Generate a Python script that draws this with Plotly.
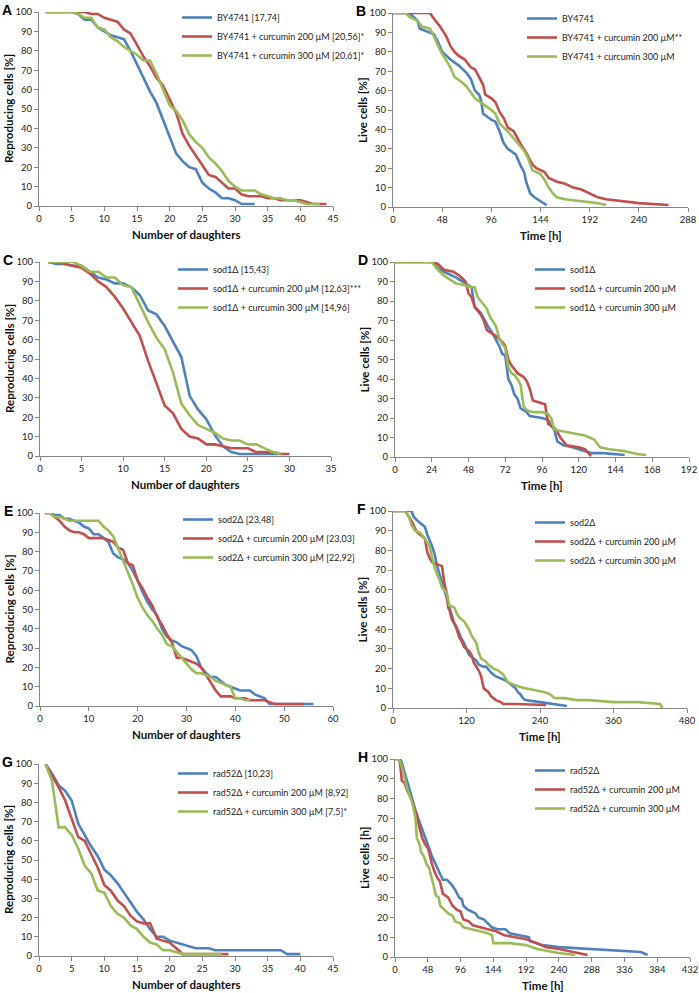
import plotly.graph_objects as go

BLUE = "#4F81BD"
RED = "#C0504D"
GREEN = "#9BBB59"

# ---------- Panel A : replicative lifespan, BY4741 ----------
a_blue = [100, 100, 100, 100, 100, 99, 96, 96, 92, 90, 88, 87, 86, 80, 73, 66, 59, 53, 44, 35, 27, 23, 20, 19, 12, 9, 7, 4, 4, 3, 1, 1, 1]
a_red = [100, 100, 100, 100, 100, 100, 100, 99, 99, 97, 96, 95, 91, 89, 83, 77, 72, 66, 62, 55, 48, 37, 31, 26, 21, 16, 15, 12, 9, 9, 6, 5, 5, 5, 4, 4, 3, 3, 3, 3, 2, 1, 1, 1]
a_green = [100, 100, 100, 100, 100, 99, 97, 97, 92, 91, 87, 85, 82, 80, 78, 75, 75, 68, 60, 52, 49, 44, 37, 33, 30, 25, 22, 18, 13, 10, 8, 8, 8, 6, 5, 4, 4, 3, 3, 2, 1, 1, 1]
a_names = ["BY4741 [17,74]", "BY4741 + curcumin 200 µM [20,56]*", "BY4741 + curcumin 300 µM [20,61]*"]

# ---------- Panel B : chronological lifespan, BY4741 ----------
b_blue_t = [0, 16, 20, 24, 26, 36, 40, 44, 48, 56, 64, 72, 76, 80, 84, 86, 88, 96, 100, 104, 108, 112, 120, 124, 128, 130, 132, 134, 138, 144, 148, 150]
b_blue_v = [100, 100, 98, 96, 92, 90, 89, 85, 80, 76, 73, 69, 66, 60, 58, 55, 48, 45, 44, 39, 33, 30, 27, 22, 18, 13, 10, 7, 5, 3, 2, 1]
b_red_t = [0, 36, 40, 46, 52, 56, 60, 64, 70, 76, 80, 84, 88, 90, 96, 100, 104, 108, 112, 118, 124, 130, 136, 140, 148, 152, 160, 168, 176, 184, 192, 200, 208, 224, 240, 269]
b_red_v = [100, 100, 97, 93, 88, 83, 80, 78, 76, 72, 71, 67, 63, 58, 56, 54, 49, 46, 41, 39, 33, 28, 22, 20, 18, 15, 13, 12, 10, 9, 7, 5, 4, 3, 2, 1]
b_green_t = [0, 12, 16, 24, 28, 36, 40, 44, 48, 56, 60, 68, 72, 76, 80, 88, 96, 100, 104, 112, 120, 128, 132, 136, 144, 148, 152, 156, 160, 168, 184, 200, 208]
b_green_v = [100, 100, 98, 96, 93, 92, 88, 83, 79, 72, 67, 64, 62, 59, 56, 53, 50, 48, 43, 39, 34, 29, 25, 19, 17, 14, 10, 7, 5, 4, 3, 2, 1]
b_names = ["BY4741", "BY4741 + curcumin 200 µM**", "BY4741 + curcumin 300 µM"]

# ---------- Panel C : replicative lifespan, sod1Δ ----------
c_blue = [100, 99, 99, 98, 98, 95, 92, 91, 89, 89, 87, 83, 75, 73, 67, 59, 51, 31, 24, 19, 11, 5, 2, 1, 1, 1, 1, 1, 1]
c_red = [100, 100, 99, 98, 97, 94, 90, 87, 82, 76, 69, 62, 49, 37, 26, 22, 14, 10, 9, 6, 6, 5, 4, 4, 4, 2, 2, 2, 1, 1]
c_green = [100, 100, 100, 100, 98, 95, 95, 92, 92, 88, 87, 78, 69, 61, 55, 43, 27, 21, 16, 14, 12, 9, 8, 8, 6, 6, 4, 2, 1]
c_names = ["sod1Δ [15,43]", "sod1Δ + curcumin 200 µM [12,63]***", "sod1Δ + curcumin 300 µM [14,96]"]

# ---------- Panel D : chronological lifespan, sod1Δ ----------
d_blue_t = [0, 24, 28, 32, 40, 44, 48, 50, 52, 56, 60, 64, 68, 70, 72, 73, 74, 76, 78, 80, 82, 86, 88, 96, 100, 102, 104, 106, 110, 116, 124, 128, 136, 150]
d_blue_v = [100, 100, 97, 95, 92, 90, 88, 87, 77, 74, 68, 63, 57, 53, 52, 45, 40, 37, 32, 30, 25, 23, 21, 20, 19, 16, 14, 8, 6, 5, 3, 2, 2, 1]
d_red_t = [0, 24, 28, 32, 38, 42, 46, 48, 50, 52, 56, 58, 60, 64, 66, 70, 72, 74, 76, 80, 84, 86, 88, 90, 94, 98, 100, 104, 106, 108, 112, 120, 124, 128]
d_red_v = [100, 100, 99, 96, 95, 93, 90, 84, 82, 77, 73, 70, 65, 63, 62, 59, 57, 50, 47, 43, 41, 39, 35, 29, 28, 27, 17, 15, 13, 10, 6, 5, 4, 0.5]
d_green_t = [0, 24, 28, 32, 36, 40, 46, 50, 52, 54, 56, 60, 62, 66, 68, 70, 72, 74, 76, 78, 80, 82, 84, 86, 90, 96, 100, 102, 104, 110, 116, 124, 130, 134, 140, 150, 158, 164]
d_green_v = [100, 100, 96, 93, 91, 89, 88, 87, 87, 82, 80, 76, 72, 67, 61, 58, 56, 46, 43, 42, 40, 37, 26, 24, 23, 23, 22, 20, 14, 13, 12, 11, 9, 5, 4, 3, 1.5, 1]
d_names = ["sod1Δ", "sod1Δ + curcumin 200 µM", "sod1Δ + curcumin 300 µM"]

# ---------- Panel E : replicative lifespan, sod2Δ ----------
e_blue = [100, 100, 99, 99, 97, 97, 96, 95, 93, 92, 89, 89, 87, 85, 79, 77, 76, 74, 70, 65, 59, 54, 50, 47, 40, 36, 34, 33, 31, 30, 29, 26, 20, 17, 15, 15, 13, 11, 10, 9, 8, 8, 8, 6, 5, 4, 1, 1, 1, 1, 1, 1, 1, 1, 1, 1]
e_red = [100, 100, 98, 96, 93, 91, 90, 90, 89, 87, 87, 87, 87, 86, 85, 82, 81, 74, 73, 65, 61, 56, 52, 46, 42, 37, 33, 25, 25, 24, 23, 22, 20, 16, 12, 8, 5, 5, 5, 4, 4, 4, 3, 3, 3, 3, 2, 1, 1, 1, 1, 1, 1, 1]
e_green = [100, 100, 98, 98, 97, 96, 96, 96, 96, 96, 96, 96, 93, 91, 88, 82, 76, 69, 63, 56, 51, 47, 44, 40, 37, 32, 31, 28, 25, 22, 19, 17, 17, 16, 15, 13, 12, 11, 10, 4, 4, 3, 3]
e_names = ["sod2Δ [23,48]", "sod2Δ + curcumin 200 µM [23,03]", "sod2Δ + curcumin 300 µM [22,92]"]

# ---------- Panel F : chronological lifespan, sod2Δ ----------
f_blue_t = [0, 30, 34, 40, 48, 52, 56, 60, 64, 68, 72, 76, 80, 84, 88, 92, 96, 100, 104, 108, 112, 116, 120, 124, 128, 132, 136, 140, 148, 152, 160, 168, 176, 184, 192, 200, 204, 208, 212, 216, 240, 260, 284]
f_blue_v = [100, 100, 97, 95, 93, 92, 88, 85, 82, 78, 72, 68, 64, 60, 55, 51, 47, 43, 41, 38, 35, 33, 30, 27, 26, 25, 24, 22, 21, 21, 18, 16, 15, 14, 12, 10, 8, 7, 5, 4, 3, 2, 1]
f_red_t = [0, 20, 26, 32, 36, 40, 48, 52, 56, 60, 64, 72, 80, 84, 88, 90, 92, 96, 100, 104, 108, 112, 116, 120, 124, 128, 132, 136, 140, 144, 148, 152, 156, 160, 168, 176, 180, 200, 250]
f_red_v = [100, 100, 97, 94, 91, 89, 87, 86, 79, 76, 74, 73, 72, 63, 58, 51, 50, 45, 43, 40, 36, 34, 31, 30, 29, 27, 23, 21, 19, 16, 10, 9, 8, 6, 4, 3, 2, 2, 1.5]
f_green_t = [0, 20, 26, 30, 36, 44, 52, 60, 64, 68, 72, 76, 80, 84, 88, 92, 100, 104, 108, 112, 116, 120, 124, 128, 132, 136, 140, 144, 150, 156, 164, 172, 180, 184, 188, 196, 204, 216, 232, 248, 256, 264, 280, 300, 320, 360, 400, 436, 440]
f_green_v = [100, 100, 97, 93, 90, 89, 86, 82, 76, 71, 68, 65, 61, 60, 58, 52, 51, 48, 46, 45, 44, 42, 40, 37, 35, 33, 28, 25, 24, 22, 20, 19, 17, 15, 13, 12, 11, 10, 9, 8, 7, 5, 5, 4, 4, 3, 3, 2, 0]
f_names = ["sod2Δ", "sod2Δ + curcumin 200 µM", "sod2Δ + curcumin 300 µM"]

# ---------- Panel G : replicative lifespan, rad52Δ ----------
g_blue = [100, 95, 89, 86, 81, 69, 63, 57, 52, 45, 42, 38, 33, 28, 23, 19, 14, 10, 10, 8, 7, 6, 5, 4, 4, 4, 3, 3, 3, 3, 3, 3, 3, 3, 3, 3, 3, 1, 1, 1]
g_red = [100, 94, 88, 81, 72, 62, 60, 53, 46, 37, 34, 29, 26, 21, 18, 17, 17, 9, 8, 7, 4, 1, 1, 1, 1, 1, 1, 1, 1]
g_green = [100, 91, 67, 67, 63, 56, 47, 43, 34, 33, 26, 22, 20, 16, 14, 10, 7, 6, 3, 3, 2, 1, 1, 1, 1, 1, 1, 1]
g_names = ["rad52Δ [10,23]", "rad52Δ + curcumin 200 µM [8,92]", "rad52Δ + curcumin 300 µM [7,5]*"]

# ---------- Panel H : chronological lifespan, rad52Δ ----------
h_blue_t = [0, 8, 10, 14, 18, 22, 26, 30, 34, 38, 42, 46, 50, 54, 58, 62, 66, 70, 76, 82, 88, 94, 98, 100, 106, 112, 118, 122, 130, 136, 142, 150, 162, 168, 180, 196, 198, 216, 240, 288, 336, 360, 370]
h_blue_v = [100, 100, 98, 93, 88, 84, 79, 74, 70, 66, 62, 58, 55, 51, 48, 45, 42, 39, 39, 37, 34, 30, 29, 26, 24, 23, 22, 20, 19, 17, 15, 14, 14, 12, 11, 10, 8, 6, 5, 4, 3, 2.5, 1]
h_red_t = [0, 6, 8, 10, 14, 18, 24, 28, 32, 36, 40, 44, 48, 50, 54, 58, 62, 66, 70, 78, 84, 90, 96, 100, 108, 114, 124, 136, 148, 160, 176, 192, 208, 220, 240, 256, 268, 282]
h_red_v = [100, 100, 96, 89, 88, 84, 80, 76, 71, 65, 60, 57, 55, 53, 47, 43, 40, 38, 32, 30, 26, 24, 23, 19, 18, 16, 15, 14, 13, 11, 10, 9, 7, 5, 4, 3, 2, 1]
h_green_t = [0, 6, 10, 14, 18, 22, 26, 30, 32, 36, 38, 42, 46, 50, 54, 58, 60, 64, 66, 72, 78, 84, 88, 96, 100, 112, 124, 136, 142, 144, 148, 168, 192, 200, 208, 224, 240, 264]
h_green_v = [100, 100, 96, 90, 85, 81, 77, 70, 60, 57, 53, 51, 47, 45, 40, 34, 31, 30, 26, 24, 22, 21, 18, 17, 15, 14, 13, 12, 11, 7, 7, 7, 6, 5, 4, 3, 2, 1]
h_names = ["rad52Δ", "rad52Δ + curcumin 200 µM", "rad52Δ + curcumin 300 µM"]

# ---------- layout helpers ----------
W, H = 699, 993
FONT = "Lato, 'Open Sans', sans-serif"
AXIS_GRAY = "#868686"

# (letter, x max, dtick, x-title, y-title, plot box px [left,right,top,bottom], legend text x px, legend first row y px)
panels = [
    ("A", 45, 5, "Number of daughters", "Reproducing cells [%]", (39, 333, 12, 206), 217, 16),
    ("B", 288, 48, "Time [h]", "Live cells [%]", (393, 688, 13, 207), 562, 17),
    ("C", 35, 5, "Number of daughters", "Reproducing cells [%]", (40, 331, 262, 456), 213, 268),
    ("D", 192, 24, "Time [h]", "Live cells [%]", (395, 689, 262, 457), 570, 268),
    ("E", 60, 10, "Number of daughters", "Reproducing cells [%]", (40, 333, 513, 706), 218, 518),
    ("F", 480, 120, "Time [h]", "Live cells [%]", (393, 687, 511, 708), 570, 521),
    ("G", 45, 5, "Number of daughters", "Reproducing cells [%]", (39, 333, 764, 956), 213, 772),
    ("H", 432, 48, "Time [h]", "Live cells [h]", (395, 690, 759, 957), 570, 769),
]

series = {
    "A": [(list(range(1, len(a_blue) + 1)), a_blue), (list(range(1, len(a_red) + 1)), a_red), (list(range(1, len(a_green) + 1)), a_green)],
    "B": [(b_blue_t, b_blue_v), (b_red_t, b_red_v), (b_green_t, b_green_v)],
    "C": [(list(range(1, len(c_blue) + 1)), c_blue), (list(range(1, len(c_red) + 1)), c_red), (list(range(1, len(c_green) + 1)), c_green)],
    "D": [(d_blue_t, d_blue_v), (d_red_t, d_red_v), (d_green_t, d_green_v)],
    "E": [(list(range(1, len(e_blue) + 1)), e_blue), (list(range(1, len(e_red) + 1)), e_red), (list(range(1, len(e_green) + 1)), e_green)],
    "F": [(f_blue_t, f_blue_v), (f_red_t, f_red_v), (f_green_t, f_green_v)],
    "G": [(list(range(1, len(g_blue) + 1)), g_blue), (list(range(1, len(g_red) + 1)), g_red), (list(range(1, len(g_green) + 1)), g_green)],
    "H": [(h_blue_t, h_blue_v), (h_red_t, h_red_v), (h_green_t, h_green_v)],
}
names = {"A": a_names, "B": b_names, "C": c_names, "D": d_names,
         "E": e_names, "F": f_names, "G": g_names, "H": h_names}
colors = [BLUE, RED, GREEN]

fig = go.Figure()
layout = dict(
    width=W, height=H,
    margin=dict(l=0, r=0, t=0, b=0),
    paper_bgcolor="white", plot_bgcolor="white",
    font=dict(family=FONT, size=10, color="#222"),
    annotations=[],
    showlegend=True,
)

for i, (letter, xmax, dtick, xtitle, ytitle, box, leg_tx, leg_ty) in enumerate(panels):
    idx = "" if i == 0 else str(i + 1)
    L, R, T, B = box
    xa = "xaxis" + idx
    ya = "yaxis" + idx
    lg = "legend" + idx
    for j, (xs, ys) in enumerate(series[letter]):
        fig.add_trace(go.Scatter(
            x=xs, y=ys, mode="lines", name=names[letter][j],
            line=dict(color=colors[j], width=2.6),
            xaxis="x" + idx, yaxis="y" + idx, legend=lg,
            legendgroup=letter + str(j), showlegend=True,
        ))
    layout[xa] = dict(
        domain=[L / W, R / W], anchor="y" + idx, range=[0, xmax], dtick=dtick,
        showline=True, linecolor=AXIS_GRAY, linewidth=1, ticks="outside",
        tickcolor=AXIS_GRAY, ticklen=4, showgrid=False, zeroline=False,
        tickfont=dict(size=9.5, color="#222"), automargin=False,
    )
    layout[ya] = dict(
        domain=[1 - B / H, 1 - T / H], anchor="x" + idx, range=[0, 100], dtick=10,
        showline=True, linecolor=AXIS_GRAY, linewidth=1, ticks="outside",
        tickcolor=AXIS_GRAY, ticklen=4, showgrid=False, zeroline=False,
        tickfont=dict(size=9.5, color="#222"), automargin=False,
    )
    layout[lg] = dict(
        x=(leg_tx - 40) / W, y=1 - (leg_ty - 13) / H, xanchor="left", yanchor="top",
        bgcolor="rgba(0,0,0,0)", font=dict(size=9, color="#222"),
        tracegroupgap=7, itemwidth=30, traceorder="normal",
    )
    # panel letter
    layout["annotations"].append(dict(
        text="<b>" + letter + "</b>", x=(L - 32) / W, y=1 - (T - 2) / H,
        xref="paper", yref="paper", showarrow=False,
        font=dict(size=14, family="Liberation Sans, Arial", color="#000"),
        xanchor="center", yanchor="middle",
    ))
    # x-axis title
    layout["annotations"].append(dict(
        text="<b>" + xtitle + "</b>", x=(L + R) / 2 / W, y=1 - (B + 28) / H,
        xref="paper", yref="paper", showarrow=False,
        font=dict(size=11.5, color="#111"), xanchor="center", yanchor="middle",
    ))
    # y-axis title
    layout["annotations"].append(dict(
        text="<b>" + ytitle + "</b>", x=(L - 31) / W, y=1 - (T + B) / 2 / H,
        xref="paper", yref="paper", showarrow=False, textangle=-90,
        font=dict(size=11.5, color="#111"), xanchor="center", yanchor="middle",
    ))

fig.update_layout(**layout)
fig.write_html("out.html", config={"displayModeBar": False},
               post_script="document.body.style.margin='0';document.body.style.overflow='hidden';")
